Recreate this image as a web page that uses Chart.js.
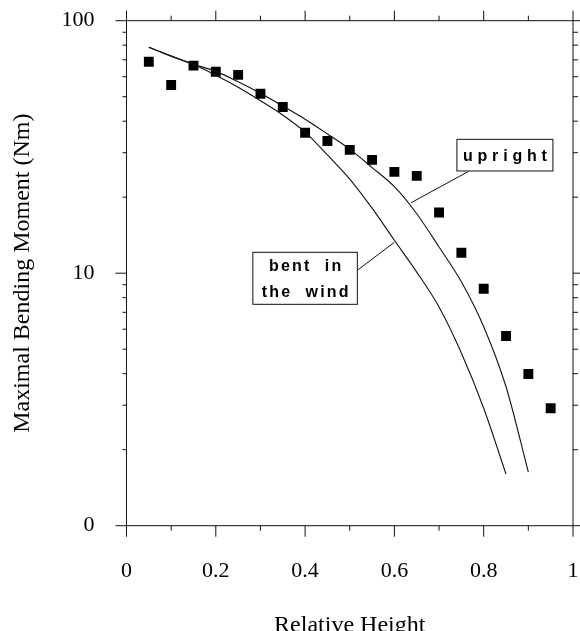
<!DOCTYPE html>
<html><head><meta charset="utf-8">
<script src="https://cdn.jsdelivr.net/npm/chart.js@4/dist/chart.umd.min.js"></script>
<style>html,body{margin:0;padding:0;background:#fff}canvas{display:block}</style>
</head><body>
<canvas id="c" width="580" height="631"></canvas>
<script>
// ---- data ----
const pointHeights   = [0.05,0.10,0.15,0.20,0.25,0.30,0.35,0.40,0.45,0.50,0.55,0.60,0.65,0.70,0.75,0.80,0.85,0.90,0.95];
const measuredMoment = [68.8,55.6,66.4,62.8,61.0,51.4,45.5,36.0,33.4,30.8,28.1,25.2,24.3,17.4,12.05,8.68,5.64,3.99,2.92];

const uprightHeights = [0.05,0.10,0.15,0.20,0.25,0.30,0.35,0.40,0.45,0.50,0.55,0.60,0.65,0.70,0.75,0.80,0.85,0.90];
const uprightMoment  = [78.5,72.4,67.2,63.0,57.3,51.6,45.9,40.7,35.6,31.0,26.2,22.0,17.2,12.7,9.25,6.14,3.55,1.63];

const bentHeights    = [0.05,0.10,0.15,0.20,0.25,0.30,0.35,0.40,0.45,0.50,0.55,0.60,0.65,0.70,0.75,0.80,0.85];
const bentMoment     = [78.5,72.4,67.0,60.8,54.5,48.2,42.3,36.2,29.4,23.6,18.1,13.5,10.1,7.35,4.83,2.92,1.60];

const xTickValues      = [0,0.2,0.4,0.6,0.8,1];
const xMinorTickValues = [0.1,0.3,0.5,0.7,0.9];
const yTickValues      = [1,10,100];
const yTickLabels      = ['0','10','100'];
const yMinorTickValues = [2,3,4,5,6,7,8,9,20,30,40,50,60,70,80,90];

const xTitle = 'Relative Height';
const yTitle = 'Maximal Bending Moment (Nm)';
const uprightLabel = ['upright'];
const bentLabel = ['bent  in','the  wind'];

// annotation anchors in data units
const uprightBox = {x0:0.740, x1:0.955, y0:33.9, y1:25.4};
const uprightLeader = {x0:0.766, y0:25.3, x1:0.637, y1:19.0};
const bentBox = {x0:0.283, x1:0.517, y0:12.1, y1:7.53};
const bentLeader = {x0:0.518, y0:10.3, x1:0.600, y1:13.26};

const SERIF = "'Liberation Serif','Times New Roman',Times,serif";
const SANS = "'Liberation Sans',Arial,Helvetica,sans-serif";

function spacedText(ctx, text, cx, y, spacing){
  const chars = [...text];
  let w = 0;
  chars.forEach((c,i)=>{ w += ctx.measureText(c).width + (i<chars.length-1?spacing:0); });
  let x = cx - w/2;
  ctx.textAlign='left';
  chars.forEach(c=>{ ctx.fillText(c,x,y); x += ctx.measureText(c).width + spacing; });
}

const framePlugin = {
  id:'frame',
  afterDraw(chart){
    const {ctx} = chart; const xs = chart.scales.x, ys = chart.scales.y;
    const L = xs.left, R = xs.right, T = ys.top, B = ys.bottom;
    ctx.save();
    ctx.strokeStyle = '#111'; ctx.lineWidth = 1;
    ctx.beginPath();
    ctx.rect(L, T, R-L, B-T);
    xTickValues.forEach(v=>{const p=xs.getPixelForValue(v);
      ctx.moveTo(p,B); ctx.lineTo(p,B+11); ctx.moveTo(p,T); ctx.lineTo(p,T-10);});
    xMinorTickValues.forEach(v=>{const p=xs.getPixelForValue(v);
      ctx.moveTo(p,B); ctx.lineTo(p,B+5); ctx.moveTo(p,T); ctx.lineTo(p,T-5);});
    yTickValues.forEach(v=>{const p=ys.getPixelForValue(v);
      ctx.moveTo(L,p); ctx.lineTo(L-11,p); ctx.moveTo(R,p); ctx.lineTo(R+10,p);});
    yMinorTickValues.forEach(v=>{const p=ys.getPixelForValue(v);
      ctx.moveTo(L,p); ctx.lineTo(L-4,p); ctx.moveTo(R,p); ctx.lineTo(R+5,p);});
    ctx.stroke();

    // annotations
    function box(b, lines, spacing, lead){
      const x0=xs.getPixelForValue(b.x0), x1=xs.getPixelForValue(b.x1);
      const y0=ys.getPixelForValue(b.y0), y1=ys.getPixelForValue(b.y1);
      ctx.fillStyle='#fff'; ctx.fillRect(x0,y0,x1-x0,y1-y0);
      ctx.strokeStyle='#111'; ctx.lineWidth=1; ctx.strokeRect(x0,y0,x1-x0,y1-y0);
      ctx.beginPath();
      ctx.moveTo(xs.getPixelForValue(lead.x0), ys.getPixelForValue(lead.y0));
      ctx.lineTo(xs.getPixelForValue(lead.x1), ys.getPixelForValue(lead.y1));
      ctx.stroke();
      ctx.fillStyle='#000'; ctx.font = 'bold 16px '+SANS; ctx.textBaseline='middle';
      const h=(y1-y0)/lines.length;
      lines.forEach((t,i)=>spacedText(ctx,t,(x0+x1)/2,y0+h*(i+0.5)+1,spacing));
    }
    box(uprightBox, uprightLabel, 4.8, uprightLeader);
    box(bentBox, bentLabel, 2.2, bentLeader);
    ctx.restore();
  }
};

const toXY = (xsArr, ysArr) => xsArr.map((x,i)=>({x, y: ysArr[i]}));
const zeroPad = s => { s.paddingLeft = 0; s.paddingRight = 0; s.paddingTop = 0; s.paddingBottom = 0; };

new Chart(document.getElementById('c'), {
  type:'scatter',
  data:{datasets:[
    {data:toXY(uprightHeights,uprightMoment), showLine:true, borderColor:'#111', borderWidth:1.1, pointRadius:0, cubicInterpolationMode:'monotone', fill:false},
    {data:toXY(bentHeights,bentMoment), showLine:true, borderColor:'#111', borderWidth:1.1, pointRadius:0, cubicInterpolationMode:'monotone', fill:false},
    {data:toXY(pointHeights,measuredMoment), showLine:false, pointStyle:'rect', pointRadius:7, pointBackgroundColor:'#000', pointBorderWidth:0, borderWidth:0}
  ]},
  options:{
    responsive:false, animation:false, devicePixelRatio:1,
    layout:{padding:{top:20.7, right:6, left:0, bottom:0}},
    plugins:{legend:{display:false}, tooltip:{enabled:false}},
    scales:{
      x:{type:'linear', min:0, max:1,
        afterBuildTicks:s=>{s.ticks = xTickValues.map(v=>({value:v}));},
        afterFit:s=>{s.height = 105.3; zeroPad(s);},
        grid:{display:false, drawTicks:false}, border:{display:false},
        ticks:{autoSkip:false, padding:32, color:'#000', font:{family:SERIF, size:22},
          callback:v=> (v===0||v===1) ? String(v) : v.toFixed(1)},
        title:{display:true, text:xTitle, color:'#000', font:{family:SERIF, size:24, lineHeight:0.42}, padding:0}
      },
      y:{type:'logarithmic', min:1, max:100,
        afterBuildTicks:s=>{s.ticks = yTickValues.map(v=>({value:v}));},
        afterFit:s=>{s.width = 126.5; zeroPad(s);},
        grid:{display:false, drawTicks:false}, border:{display:false},
        ticks:{autoSkip:false, padding:32, color:'#000', font:{family:SERIF, size:22},
          callback:v=>{const i=yTickValues.findIndex(t=>Math.abs(t-v)<1e-6*t); return i>=0?yTickLabels[i]:'';}},
        title:{display:true, text:yTitle, color:'#000', font:{family:SERIF, size:24}, padding:{top:8,bottom:0}}
      }
    }
  },
  plugins:[framePlugin]
});
</script>
</body></html>
